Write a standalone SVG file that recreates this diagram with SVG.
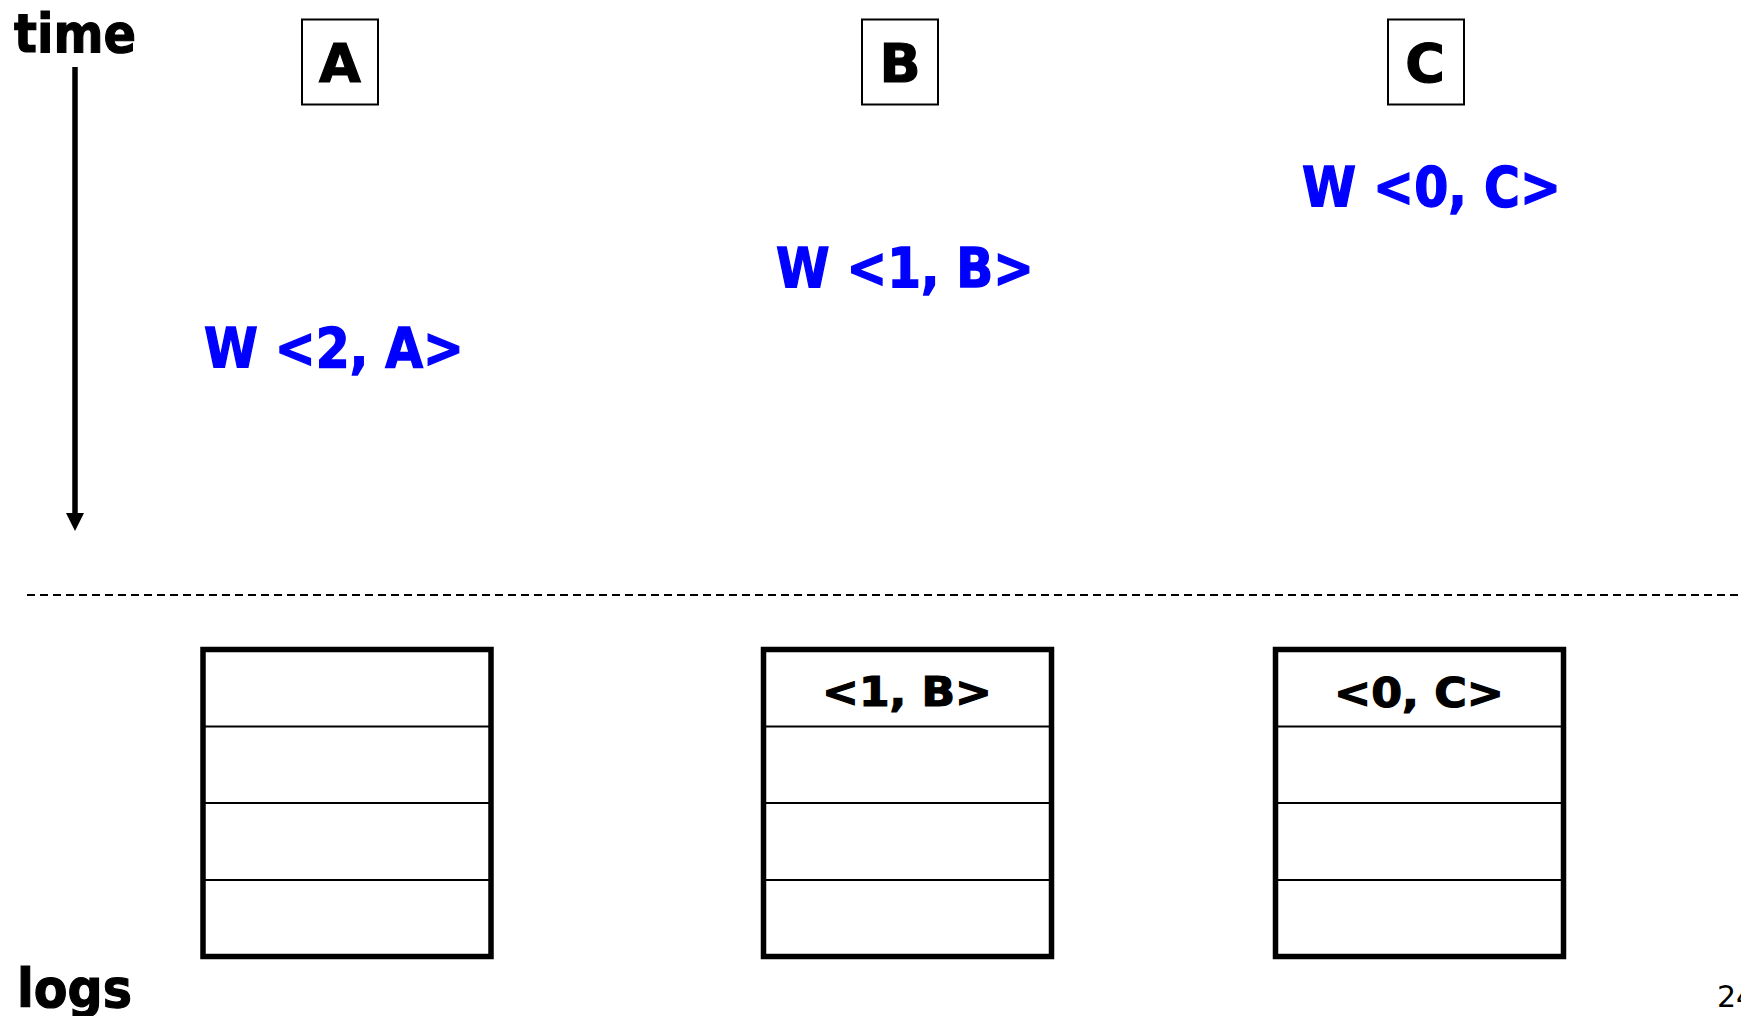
<svg xmlns="http://www.w3.org/2000/svg" width="1741" height="1016" viewBox="0 0 1741 1016">
<style>
  .bg { fill: #ffffff; }
  .lbl { font-family: "DejaVu Sans", "Liberation Sans", sans-serif; font-weight: bold; fill: #000000; stroke: #000000; stroke-width: 1.2; }
  .proc rect { fill: #ffffff; stroke: #000000; stroke-width: 2; }
  .proc text { font-family: "DejaVu Sans", "Liberation Sans", sans-serif; font-weight: bold; font-size: 54px; fill: #000000; stroke: #000000; stroke-width: 1.2; text-anchor: middle; }
  .write { font-family: "DejaVu Sans", "Liberation Sans", sans-serif; font-weight: bold; font-size: 55px; fill: #0000ff; stroke: #0000ff; stroke-width: 1.4; }
  .log rect { fill: #ffffff; stroke: #000000; stroke-width: 5.5; }
  .log line { stroke: #000000; stroke-width: 2; }
  .log text { font-family: "DejaVu Sans", "Liberation Sans", sans-serif; font-weight: bold; font-size: 41px; fill: #000000; stroke: #000000; stroke-width: 1.2; }
  .page { font-family: "DejaVu Sans", "Liberation Sans", sans-serif; font-size: 30px; fill: #000000; }
</style>
<rect class="bg" x="0" y="0" width="1741" height="1016"/>

<g id="labels">
  <text class="lbl" x="14" y="52" font-size="54" textLength="122" lengthAdjust="spacingAndGlyphs">time</text>
  <text class="lbl" x="17" y="1007" font-size="54" textLength="115" lengthAdjust="spacingAndGlyphs">logs</text>
  <text class="page" x="1717" y="1007">24</text>
</g>

<g id="connectors">
  <line x1="75" y1="67" x2="75" y2="515" stroke="#000000" stroke-width="5.5"/>
  <polygon points="66,513 84,513 75,531" fill="#000000"/>
  <line x1="27" y1="595" x2="1741" y2="595" stroke="#000000" stroke-width="2" stroke-dasharray="8 5"/>
</g>

<g id="proc-A" class="proc">
  <rect x="302" y="19.5" width="76" height="85"/>
  <text x="340" y="82">A</text>
</g>
<g id="proc-B" class="proc">
  <rect x="862" y="19.5" width="76" height="85"/>
  <text x="900" y="82">B</text>
</g>
<g id="proc-C" class="proc">
  <rect x="1388" y="19.5" width="76" height="85"/>
  <text x="1425" y="82">C</text>
</g>

<g id="write-A">
  <text class="write" x="204" y="367" textLength="260" lengthAdjust="spacingAndGlyphs">W &lt;2, A&gt;</text>
</g>
<g id="write-B">
  <text class="write" x="776" y="287" textLength="258" lengthAdjust="spacingAndGlyphs">W &lt;1, B&gt;</text>
</g>
<g id="write-C">
  <text class="write" x="1302" y="206" textLength="259" lengthAdjust="spacingAndGlyphs">W &lt;0, C&gt;</text>
</g>

<g id="log-A" class="log">
  <rect x="203" y="649.5" width="288" height="307"/>
  <line x1="203" y1="726.5" x2="491" y2="726.5"/>
  <line x1="203" y1="803" x2="491" y2="803"/>
  <line x1="203" y1="880" x2="491" y2="880"/>
</g>
<g id="log-B" class="log">
  <rect x="763.5" y="649.5" width="288" height="307"/>
  <line x1="763.5" y1="726.5" x2="1051.5" y2="726.5"/>
  <line x1="763.5" y1="803" x2="1051.5" y2="803"/>
  <line x1="763.5" y1="880" x2="1051.5" y2="880"/>
  <text x="822" y="706" textLength="170" lengthAdjust="spacingAndGlyphs">&lt;1, B&gt;</text>
</g>
<g id="log-C" class="log">
  <rect x="1275.5" y="649.5" width="288" height="307"/>
  <line x1="1275.5" y1="726.5" x2="1563.5" y2="726.5"/>
  <line x1="1275.5" y1="803" x2="1563.5" y2="803"/>
  <line x1="1275.5" y1="880" x2="1563.5" y2="880"/>
  <text x="1334" y="707" textLength="170" lengthAdjust="spacingAndGlyphs">&lt;0, C&gt;</text>
</g>
</svg>
